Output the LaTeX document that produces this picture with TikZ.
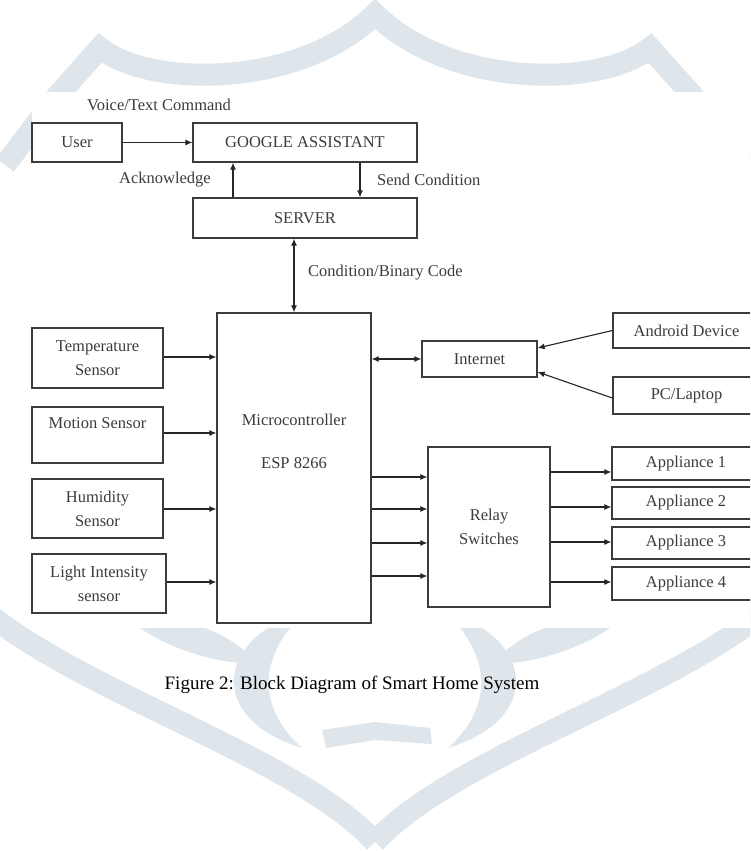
\documentclass[tikz,border=0pt]{standalone}
\usepackage{fontspec}
\setmainfont{Liberation Serif}
\usetikzlibrary{arrows.meta}
\definecolor{wm}{HTML}{DEE5EB}
\definecolor{ink}{HTML}{3C3C3C}
\newcommand\dgfont{\fontsize{16.5}{24}\selectfont}
\newcommand\capfont{\fontsize{19}{23}\selectfont}
\tikzset{
  box/.style={draw=ink, line width=1.3pt, rectangle, inner sep=0pt, font=\dgfont, text=ink, align=center},
  lbl/.style={font=\dgfont, text=ink, inner sep=0pt},
  arr/.style={draw=black!85, line width=1.1pt, -{Latex[length=7pt,width=6pt]}},
  arrb/.style={draw=black!85, line width=1.1pt, {Latex[length=7pt,width=6pt]}-{Latex[length=7pt,width=6pt]}},
  wmband/.style={draw=wm, line width=22pt},
  wmfill/.style={fill=wm, draw=none}
}
\begin{document}
\begin{tikzpicture}[x=1pt,y=-1pt]
\useasboundingbox (0,0) rectangle (750,851);
\clip (0,0) rectangle (750,851);
\fill[white] (0,0) rectangle (750,851);
% ---- watermark ----
\draw[wmband] (5,165) -- (58,95) -- (100,48) .. controls (150,88) and (300,88) .. (375,14) .. controls (450,88) and (600,88) .. (650,48) -- (692,95) -- (745,165);
\draw[wmband] (-10,615) .. controls (90,695) and (300,760) .. (375,842);
\draw[wmband] (760,615) .. controls (660,695) and (450,760) .. (375,842);
\begin{scope}
\path[wmfill] (268,628) .. controls (218,660) and (218,722) .. (302,748) .. controls (262,712) and (258,668) .. (290,628) -- cycle;
\path[wmfill] (140,628) .. controls (175,652) and (222,664) .. (258,664) .. controls (242,646) and (222,634) .. (205,628) -- cycle;
\path[wmfill] (322,730) -- (375,722) -- (430,728) -- (432,744) -- (375,740) -- (326,748) -- cycle;
\end{scope}
\begin{scope}[shift={(750,0)}, xscale=-1]
\path[wmfill] (268,628) .. controls (218,660) and (218,722) .. (302,748) .. controls (262,712) and (258,668) .. (290,628) -- cycle;
\path[wmfill] (140,628) .. controls (175,652) and (222,664) .. (258,664) .. controls (242,646) and (222,634) .. (205,628) -- cycle;
\end{scope}
\fill[white] (32,92) rectangle (750,628);
% ---- diagram ----
\node[box, minimum width=90, minimum height=39] (user) at (77,142.5) {User};
\node[box, minimum width=224, minimum height=39] (ga) at (305,142.5) {GOOGLE ASSISTANT};
\node[box, minimum width=224, minimum height=40] (server) at (305,218) {SERVER};
\node[box, minimum width=154, minimum height=310] (micro) at (294,468) {};
\node[lbl, align=center, font=\fontsize{16.5}{43}\selectfont] (microtxt) at (294,441.5) {Microcontroller\\ESP 8266};
\node[box, minimum width=131, minimum height=60] (temp) at (97.5,358) {Temperature\\Sensor};
\node[box, minimum width=131, minimum height=56] (motion) at (97.5,435) {Motion Sensor\\\mbox{}};
\node[box, minimum width=131, minimum height=59] (humid) at (97.5,508.5) {Humidity\\Sensor};
\node[box, minimum width=134, minimum height=59] (light) at (99,583.5) {Light Intensity\\sensor};
\node[box, minimum width=115, minimum height=36] (internet) at (479.5,359) {Internet};
\node[box, minimum width=147, minimum height=35] (android) at (686.5,330.5) {Android Device};
\node[box, minimum width=147, minimum height=37] (pc) at (686.5,395.5) {PC/Laptop};
\node[box, minimum width=122, minimum height=160] (relay) at (489,527) {Relay\\Switches};
\node[box, minimum width=148, minimum height=33] (app1) at (686,463.5) {Appliance 1};
\node[box, minimum width=148, minimum height=32] (app2) at (686,503) {Appliance 2};
\node[box, minimum width=148, minimum height=32] (app3) at (686,543) {Appliance 3};
\node[box, minimum width=148, minimum height=33] (app4) at (686,583.5) {Appliance 4};
% labels
\node[lbl] (voice) at (159,105) {Voice/Text Command};
\node[lbl] (ack) at (165,180) {Acknowledge};
\node[lbl, anchor=west] (send) at (377,180) {Send Condition};
\node[lbl, anchor=west] (cond) at (308,273) {Condition/Binary Code};
\node[font=\capfont, text=black, inner sep=0pt] (caption) at (352,685) {Figure 2: Block Diagram of Smart Home System};
% helper coordinates
\coordinate (ackx) at (233,180);
\coordinate (sendx) at (360,180);
% connectors
\draw[arr] (user) -- (ga);
\draw[arr] (ackx |- server.north) -- (ackx |- ga.south);
\draw[arr] (sendx |- ga.south) -- (sendx |- server.north);
\draw[arrb] (micro.north |- server.south) -- (micro.north);
\draw[arr] (temp.east |- 0,357) -- (micro.west |- 0,357);
\draw[arr] (motion.east |- 0,433) -- (micro.west |- 0,433);
\draw[arr] (humid.east |- 0,509) -- (micro.west |- 0,509);
\draw[arr] (light.east |- 0,582) -- (micro.west |- 0,582);
\draw[arrb] (micro.east |- internet.west) -- (internet.west);
\draw[arr] (android.west) -- ([yshift=11pt]internet.east);
\draw[arr] ([yshift=-2.5pt]pc.west) -- ([yshift=-13pt]internet.east);
\foreach \yy in {477,509,543,576} {
  \draw[arr] (micro.east |- 0,\yy) -- (relay.west |- 0,\yy);
}
\draw[arr] (relay.east |- 0,472) -- (app1.west |- 0,472);
\draw[arr] (relay.east |- 0,507) -- (app2.west |- 0,507);
\draw[arr] (relay.east |- 0,542) -- (app3.west |- 0,542);
\draw[arr] (relay.east |- 0,582) -- (app4.west |- 0,582);
\end{tikzpicture}
\end{document}
